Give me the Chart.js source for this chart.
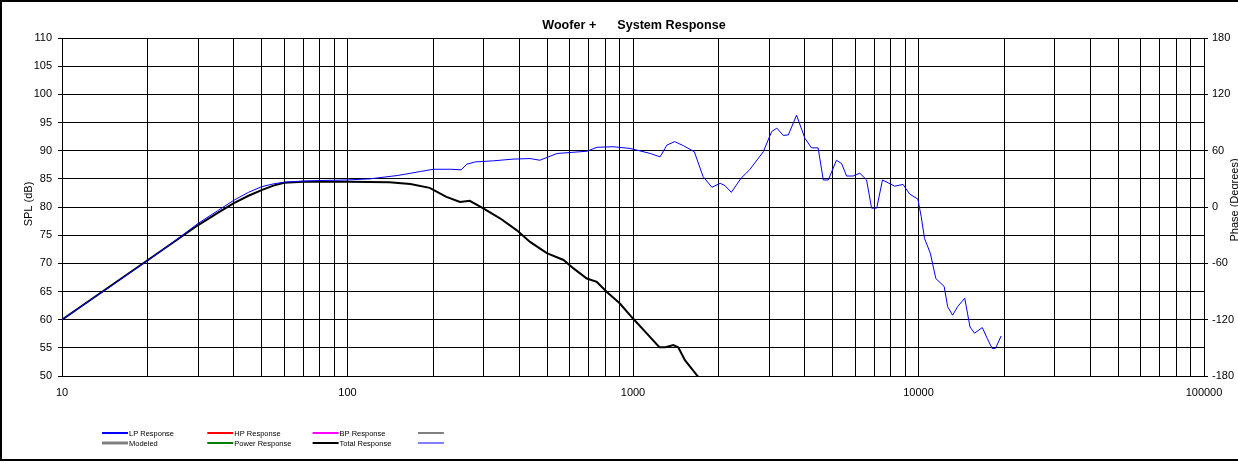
<!DOCTYPE html>
<html>
<head>
<meta charset="utf-8">
<title>Woofer + System Response</title>
<script src="https://cdn.jsdelivr.net/npm/chart.js@4.4.1/dist/chart.umd.min.js"></script>
<style>
  body { margin: 0; background: #fff; }
  #wrap { width: 1238px; height: 463px; }
</style>
</head>
<body>
<div id="wrap"><canvas id="responseChart" width="1238" height="463"></canvas></div>
<script>
// LP Response (blue)
const lpFreq = [10, 12.5, 15, 17.5, 20, 25, 30, 35, 40, 45, 50, 55, 60, 70, 80, 100, 120, 150, 180, 200,
    230, 250, 262, 280, 325, 380, 436, 472, 542, 690, 748, 851, 976, 1150, 1244, 1315, 1400, 1500, 1640, 1760,
    1890, 2020, 2100, 2210, 2390, 2560, 2860, 3060, 3190, 3360, 3500, 3740, 4000, 4220, 4450, 4640, 4830, 5160, 5380, 5600,
    5900, 6230, 6580, 6850, 7140, 7480, 8250, 8830, 9310, 9950, 10220, 10500, 11000, 11500, 12300, 12650, 13170, 13700, 14520, 15150,
    15720, 16730, 17400, 18100, 18600, 19470];
const lpSpl = [60.0, 63.4, 66.1, 68.5, 70.5, 74.1, 77.1, 79.3, 81.2, 82.6, 83.6, 84.1, 84.4, 84.6, 84.7, 84.8, 85.0, 85.6, 86.3, 86.7,
    86.7, 86.6, 87.6, 88.0, 88.2, 88.5, 88.6, 88.3, 89.5, 89.9, 90.6, 90.7, 90.4, 89.5, 88.9, 91.0, 91.6, 90.9, 89.8, 85.4,
    83.5, 84.2, 83.8, 82.6, 85.1, 86.6, 89.8, 93.4, 94.0, 92.7, 92.8, 96.3, 92.2, 90.5, 90.5, 84.8, 84.8, 88.3, 87.7, 85.5,
    85.5, 86.0, 84.8, 79.8, 79.8, 84.8, 83.7, 84.0, 82.3, 81.4, 78.3, 74.4, 71.8, 67.3, 65.9, 62.3, 60.8, 62.3, 63.8, 58.7,
    57.6, 58.6, 56.7, 54.9, 54.9, 57.1];

// Total Response (black)
const totalFreq = [10, 15, 20, 25, 30, 35, 40, 45, 50, 55, 60, 70, 100, 140, 166, 194, 222, 248, 268, 298,
    342, 391, 436, 499, 571, 619, 689, 747, 810, 898, 1000, 1115, 1237, 1300, 1384, 1440, 1520, 1670, 1720];
const totalSpl = [60.0, 66.2, 70.6, 74.0, 76.8, 78.9, 80.7, 82.0, 83.0, 83.8, 84.3, 84.5, 84.5, 84.4, 84.1, 83.4, 81.8, 80.9, 81.1, 79.8,
    78.0, 75.9, 73.8, 71.8, 70.6, 69.1, 67.3, 66.7, 64.9, 62.9, 60.2, 57.6, 55.1, 55.1, 55.5, 55.1, 52.8, 50.2, 49.5];

const xTickLabels = [10, 100, 1000, 10000, 100000];
const chartTitle = 'Woofer +      System Response';

const legendItems = [
    { text: 'LP Response', color: '#0000ff', width: 2, col: 0, row: 0 },
    { text: 'Modeled', color: '#808080', width: 3, col: 0, row: 1 },
    { text: 'HP Response', color: '#ff0000', width: 2, col: 1, row: 0 },
    { text: 'Power Response', color: '#008000', width: 2, col: 1, row: 1 },
    { text: 'BP Response', color: '#ff00ff', width: 2, col: 2, row: 0 },
    { text: 'Total Response', color: '#000000', width: 2, col: 2, row: 1 },
    { text: '', color: '#808080', width: 2, col: 3, row: 0 },
    { text: '', color: '#0000ff', width: 1, col: 3, row: 1 }
];

const fontFamily = '"Liberation Sans", Arial, sans-serif';
Chart.defaults.font.family = fontFamily;
Chart.defaults.color = '#000';

// grid at every 1..9 x 10^n
const xGrid = [];
for (let d = 10; d < 100000; d *= 10) {
    for (let m = 1; m < 10; m++) xGrid.push(d * m);
}
xGrid.push(100000);

const toPoints = (xs, ys) => xs.map((x, i) => ({ x: x, y: ys[i] }));

const decorPlugin = {
    id: 'decor',
    beforeDraw(chart) {
        const c = chart.ctx;
        c.save();
        c.fillStyle = '#fff';
        c.fillRect(0, 0, chart.width, chart.height);
        c.restore();
    },
    afterDraw(chart) {
        const c = chart.ctx;
        const area = chart.chartArea;
        c.save();
        // outer frame (left, top, bottom)
        c.fillStyle = '#000';
        c.fillRect(0, 0, 2, 461);
        c.fillRect(0, 0, chart.width, 2);
        c.fillRect(0, 459, chart.width, 2);

        c.font = 'bold 12.6px ' + fontFamily;
        c.textAlign = 'center';
        c.textBaseline = 'middle';
        c.fillText(chartTitle, (area.left + area.right) / 2 + 1, 26);

        c.font = '11px ' + fontFamily;
        c.textBaseline = 'alphabetic';
        c.save();
        c.translate(32, 204);
        c.rotate(-Math.PI / 2);
        c.fillText('SPL (dB)', 0, 0);
        c.restore();
        c.save();
        c.translate(1238, 200);
        c.rotate(-Math.PI / 2);
        c.fillText('Phase (Degrees)', 0, 0);
        c.restore();

        // legend
        c.font = '7.5px ' + fontFamily;
        c.textAlign = 'left';
        c.textBaseline = 'middle';
        legendItems.forEach(item => {
            const x0 = 102 + item.col * 105.3;
            const y0 = 433 + item.row * 10;
            c.strokeStyle = item.color;
            c.lineWidth = item.width;
            c.beginPath();
            c.moveTo(x0, y0);
            c.lineTo(x0 + 26, y0);
            c.stroke();
            if (item.text) c.fillText(item.text, x0 + 27, y0 + 0.5);
        });
        c.restore();
    }
};

const ctx = document.getElementById('responseChart').getContext('2d');

const responseChart = new Chart(ctx, {
    type: 'line',
    data: {
        datasets: [{
            label: 'LP Response',
            data: toPoints(lpFreq, lpSpl),
            borderColor: '#0000ff',
            borderWidth: 1,
            pointRadius: 0,
            tension: 0,
            order: 0
        },
        {
            label: 'Total Response',
            data: toPoints(totalFreq, totalSpl),
            borderColor: '#000000',
            borderWidth: 2,
            pointRadius: 0,
            tension: 0,
            order: 1
        }]
    },
    options: {
        responsive: false,
        animation: false,
        layout: { padding: { top: 38, left: 0, right: 0, bottom: 0 } },
        plugins: {
            legend: { display: false },
            tooltip: { enabled: false },
            title: { display: false }
        },
        scales: {
            x: {
                type: 'logarithmic',
                min: 10,
                max: 100000,
                afterBuildTicks: scale => {
                    scale.ticks = xGrid.map(v => ({ value: v }));
                },
                afterFit: scale => { scale.height = 87; },
                ticks: {
                    autoSkip: false,
                    maxRotation: 0,
                    padding: 10,
                    color: '#000',
                    font: { size: 11 },
                    callback: value => xTickLabels.includes(value) ? String(value) : ''
                },
                grid: { color: '#000', lineWidth: 1, drawTicks: false },
                border: { color: '#000' }
            },
            y: {
                position: 'left',
                min: 50,
                max: 110,
                afterFit: scale => { scale.width = 62; },
                ticks: { stepSize: 5, padding: 6, color: '#000', font: { size: 11 } },
                grid: { color: '#000', lineWidth: 1, tickLength: 4 },
                border: { color: '#000' }
            },
            phase: {
                position: 'right',
                min: -180,
                max: 180,
                afterFit: scale => { scale.width = 34; },
                ticks: { stepSize: 60, padding: 4, color: '#000', font: { size: 11 } },
                grid: { drawOnChartArea: false, color: '#000', tickLength: 4 },
                border: { color: '#000' }
            }
        }
    },
    plugins: [decorPlugin]
});
</script>
</body>
</html>
